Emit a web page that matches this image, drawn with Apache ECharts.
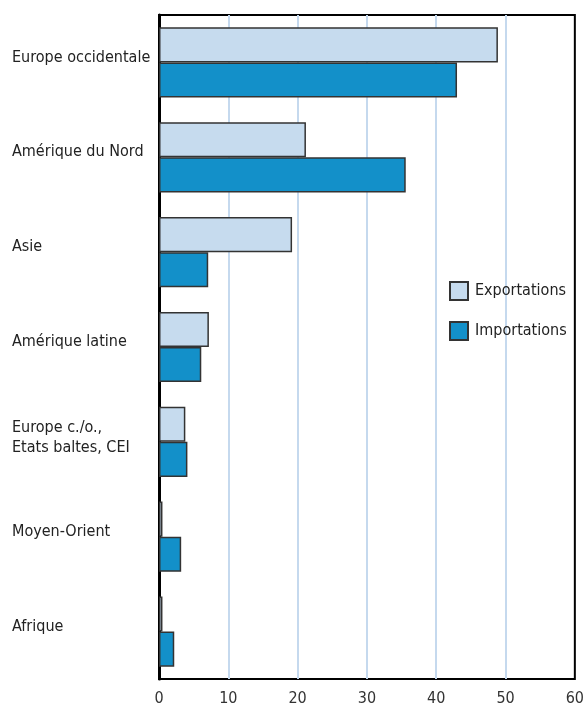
<!DOCTYPE html>
<html lang="fr">
  <head>
    <meta charset="UTF-8" />
    <title>Exportations et importations</title>
    <script src="https://cdn.jsdelivr.net/npm/echarts@6/dist/echarts.min.js"></script>
    <style>
      body { margin: 0; background: #fff; }
    </style>
  </head>
  <body>
    <div id="main" style="width: 587px; height: 708px"></div>
    <script type="text/javascript">
      // data
      let regions = [
        "Europe occidentale",
        "Amérique du Nord",
        "Asie",
        "Amérique latine",
        "Europe c./o.,\nEtats baltes, CEI",
        "Moyen-Orient",
        "Afrique",
      ]
      let exportations = [48.9, 21.2, 19.2, 7.2, 3.8, 0.5, 0.5]
      let importations = [43.0, 35.6, 7.1, 6.1, 4.1, 3.2, 2.2]
      let xTicks = [0, 10, 20, 30, 40, 50, 60]

      let font = "'Liberation Sans Narrow', 'DejaVu Sans Condensed', 'Liberation Sans', sans-serif"

      // labels sit a little above the middle of each pair of bars
      function regionLabel(value) {
        let lines = value.split("\n")
        return lines
          .map((l, i) => (i === lines.length - 1 ? "{b|" + l + "}" : "{t|" + l + "}"))
          .join("\n")
      }

      let options = {
        animation: false,
        textStyle: { fontFamily: font },
        grid: {
          left: 159,
          right: 12,
          top: 15,
          bottom: 29,
          show: true,
          borderColor: "#000",
          borderWidth: 2,
        },
        legend: {
          orient: "vertical",
          left: 444,
          top: 276,
          itemWidth: 18,
          itemHeight: 18,
          itemGap: 20,
          icon: "rect",
          textStyle: { fontSize: 16, color: "#222", fontFamily: font, padding: [0, 0, 0, 2] },
          data: ["Exportations", "Importations"],
        },
        xAxis: {
          type: "value",
          min: xTicks[0],
          max: xTicks[xTicks.length - 1],
          interval: 10,
          axisLine: { show: false },
          axisTick: { show: false },
          axisLabel: { fontSize: 16, color: "#333", margin: 12, fontFamily: font },
          splitLine: {
            showMinLine: false,
            showMaxLine: false,
            lineStyle: { color: "#c5d9ee", width: 2 },
          },
        },
        yAxis: {
          type: "category",
          data: regions,
          inverse: true,
          axisLine: { show: true, lineStyle: { color: "#000", width: 3 } },
          axisTick: { show: false },
          axisLabel: {
            align: "left",
            margin: 147,
            fontSize: 16,
            color: "#222",
            fontFamily: font,
            formatter: regionLabel,
            rich: {
              t: { fontSize: 16, lineHeight: 22, color: "#222", fontFamily: font, padding: [0, 0, 6, 0] },
              b: { fontSize: 16, lineHeight: 22, color: "#222", fontFamily: font, padding: [6, 0, 16, 0] },
            },
          },
        },
        series: [
          {
            name: "Exportations",
            type: "bar",
            data: exportations,
            barGap: "0%",
            barCategoryGap: "26%",
            itemStyle: { color: "#c6dbee", borderColor: "#333", borderWidth: 1.5 },
          },
          {
            name: "Importations",
            type: "bar",
            data: importations,
            barGap: "0%",
            barCategoryGap: "26%",
            itemStyle: { color: "#1390c9", borderColor: "#333", borderWidth: 1.5 },
          },
        ],
      }

      let myChart = echarts.init(document.getElementById("main"))
      myChart.setOption(options)
    </script>
  </body>
</html>
